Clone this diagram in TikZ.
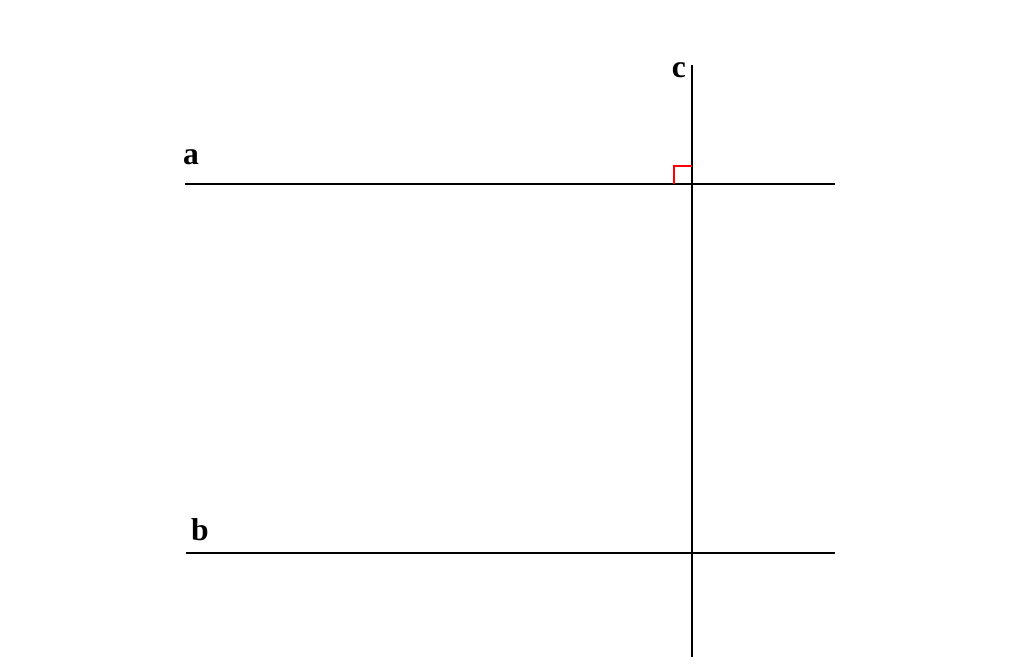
\documentclass[tikz,border=0pt]{standalone}
\usepackage{fontspec}
\setmainfont{Liberation Serif}
\usetikzlibrary{positioning}

\begin{document}
\begin{tikzpicture}[x=0.02cm, y=-0.02cm,
    line/.style={draw, line width=1.3pt},
    lbl/.style={font=\fontsize{18}{20}\selectfont\bfseries, inner sep=0pt},
    anglemark/.style={draw=red, line width=1.1pt}]
  \useasboundingbox (0,0) rectangle (1024,672);
  % lines a, b and c
  \coordinate (a1) at (185,184);
  \coordinate (a2) at (835,184);
  \coordinate (b1) at (186,553);
  \coordinate (b2) at (835,553);
  \coordinate (c1) at (692,65);
  \coordinate (c2) at (692,657);
  \draw[line] (a1) -- (a2);
  \draw[line] (b1) -- (b2);
  \draw[line] (c1) -- (c2);
  % right angle mark
  \coordinate (m1) at (674,184);
  \coordinate (m2) at (674,166);
  \coordinate (m3) at (692,166);
  \draw[anglemark] (m1) -- (m2) -- (m3);
  % labels
  \node[lbl] (la) at (191,157) {a};
  \node[lbl] (lb) at (200,530) {b};
  \node[lbl] (lc) at (679,70) {c};
\end{tikzpicture}
\end{document}
